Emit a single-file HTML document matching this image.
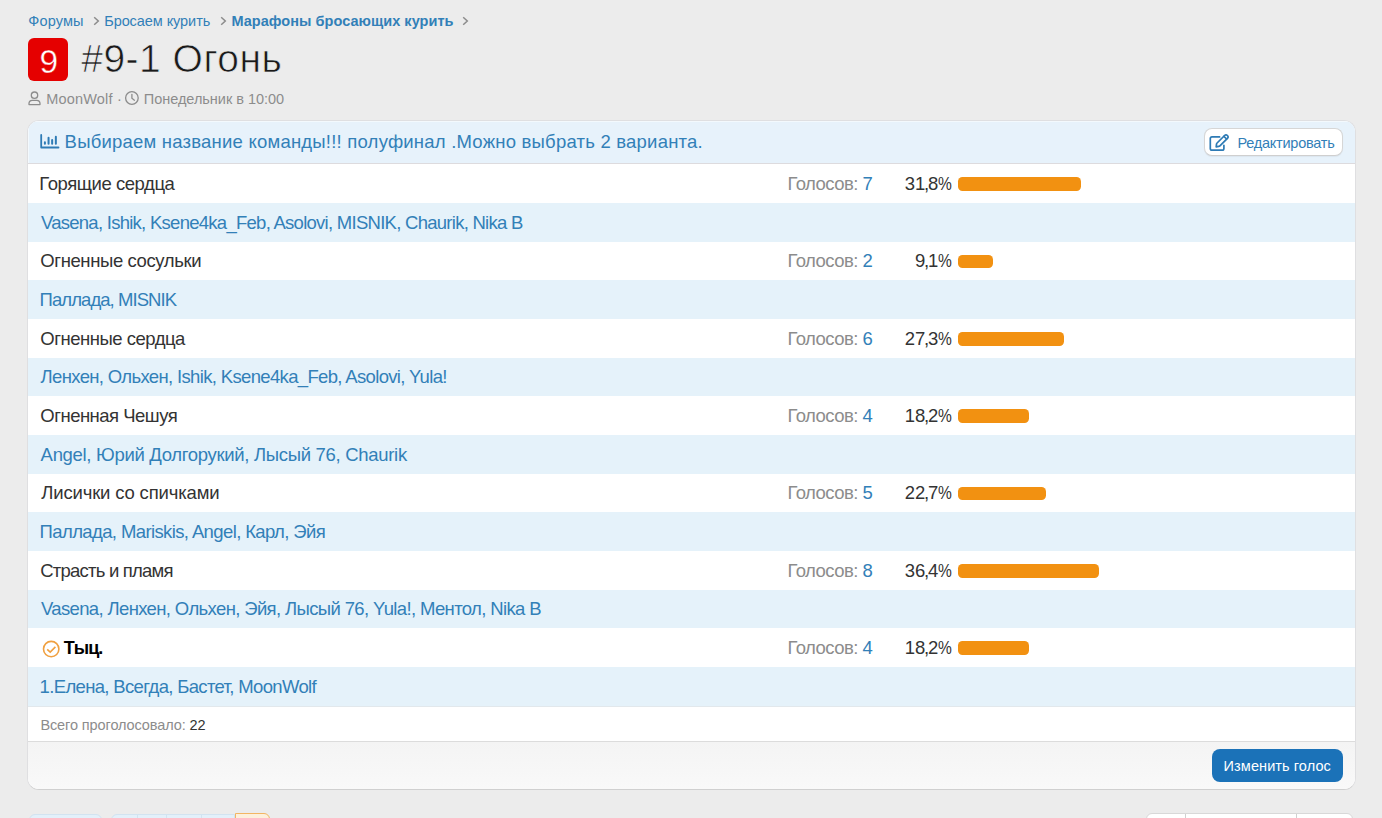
<!DOCTYPE html>
<html><head><meta charset="utf-8">
<style>
*{box-sizing:border-box;margin:0;padding:0}
html,body{width:1382px;height:818px;overflow:hidden;background:#ececec;font-family:"Liberation Sans",sans-serif;color:#141414}
.t{position:absolute;white-space:nowrap}
.a{position:absolute}
</style></head><body>
<div id="c1" class="t" style="left:28.30px;top:13.93px;font-size:14.5px;line-height:14.5px;color:#3280b8;font-weight:normal;letter-spacing:0.140px;">Форумы</div>
<div id="c2" class="t" style="left:104.20px;top:13.93px;font-size:14.5px;line-height:14.5px;color:#3280b8;font-weight:normal;letter-spacing:-0.069px;">Бросаем курить</div>
<div id="c3" class="t" style="left:231.40px;top:13.93px;font-size:14.5px;line-height:14.5px;color:#3280b8;font-weight:bold;letter-spacing:0.042px;">Марафоны бросающих курить</div>
<svg class="a" style="left:92.9px;top:16px" width="7" height="10" viewBox="0 0 7 10"><path d="M1.2 1.2 L5.3 5 L1.2 8.8" fill="none" stroke="#8c8c8c" stroke-width="1.5"/></svg>
<svg class="a" style="left:219.8px;top:16px" width="7" height="10" viewBox="0 0 7 10"><path d="M1.2 1.2 L5.3 5 L1.2 8.8" fill="none" stroke="#8c8c8c" stroke-width="1.5"/></svg>
<svg class="a" style="left:462.4px;top:16px" width="7" height="10" viewBox="0 0 7 10"><path d="M1.2 1.2 L5.3 5 L1.2 8.8" fill="none" stroke="#8c8c8c" stroke-width="1.5"/></svg>
<div class="a" style="left:28px;top:38px;width:40px;height:43px;background:#e50000;border-radius:6px"></div>
<div id="b9" class="t" style="left:39.50px;top:44.94px;font-size:33.5px;line-height:33.5px;color:#fff;font-weight:normal;letter-spacing:0.000px;-webkit-text-stroke:0.4px #e50000">9</div>
<div id="ti" class="t" style="left:81.20px;top:39.49px;font-size:39px;line-height:39px;color:#1a1a1a;font-weight:normal;letter-spacing:0.500px;-webkit-text-stroke:0.7px #ececec;paint-order:normal">#9-1 Огонь</div>
<svg class="a" style="left:28px;top:91px" width="13" height="15" viewBox="0 0 13 15"><circle cx="6.5" cy="4.2" r="3.2" fill="none" stroke="#8c8c8c" stroke-width="1.3"/><path d="M1 13.6 L1 12.6 Q1 9.3 4.3 9.3 L8.7 9.3 Q12 9.3 12 12.6 L12 13.6 Z" fill="none" stroke="#8c8c8c" stroke-width="1.3" stroke-linejoin="round"/></svg>
<div id="m1" class="t" style="left:46.20px;top:92.23px;font-size:14.5px;line-height:14.5px;color:#8c8c8c;font-weight:normal;letter-spacing:0.186px;">MoonWolf</div>
<div id="m2" class="t" style="left:117.00px;top:92.23px;font-size:14.5px;line-height:14.5px;color:#8c8c8c;font-weight:normal;letter-spacing:0.000px;">·</div>
<svg class="a" style="left:124px;top:91px" width="16" height="15" viewBox="0 0 16 15"><circle cx="7.9" cy="7" r="6.3" fill="none" stroke="#8c8c8c" stroke-width="1.3"/><path d="M7.9 3.3 L7.9 7.3 L10.4 9.2" fill="none" stroke="#8c8c8c" stroke-width="1.3" stroke-linecap="round"/></svg>
<div id="m3" class="t" style="left:143.80px;top:92.23px;font-size:14.5px;line-height:14.5px;color:#8c8c8c;font-weight:normal;letter-spacing:-0.028px;">Понедельник в 10:00</div>
<div class="a" style="left:27px;top:120px;width:1329px;height:670px;background:#fff;border:1px solid #dfdfe1;border-bottom-color:#d0d0d0;border-radius:12px;overflow:hidden">
<div class="a" style="left:0;top:0;width:1327px;height:43px;background:#e7f2fb;border-bottom:1px solid #dddbde;box-shadow:inset 1px 1px 0 rgba(255,255,255,.5)"></div>
<div class="a" style="left:0;top:81.97px;width:1327px;height:38.67px;background:#e5f2fa"></div>
<div class="a" style="left:0;top:159.31px;width:1327px;height:38.67px;background:#e5f2fa"></div>
<div class="a" style="left:0;top:236.65px;width:1327px;height:38.67px;background:#e5f2fa"></div>
<div class="a" style="left:0;top:313.99px;width:1327px;height:38.67px;background:#e5f2fa"></div>
<div class="a" style="left:0;top:391.33px;width:1327px;height:38.67px;background:#e5f2fa"></div>
<div class="a" style="left:0;top:468.67px;width:1327px;height:38.67px;background:#e5f2fa"></div>
<div class="a" style="left:0;top:546.01px;width:1327px;height:38.67px;background:#e5f2fa"></div>
<div class="a" style="left:0;top:584.70px;width:1327px;height:1px;background:#e2e8ec"></div>
<div class="a" style="left:0;top:620px;width:1327px;height:48px;background:linear-gradient(#f4f4f4,#f9f9f9);border-top:1px solid #dcdcdc"></div>
</div>
<svg class="a" style="left:38px;top:132px" width="24" height="18" viewBox="0 0 24 18"><g fill="none" stroke="#2e7bb5" stroke-linecap="round" stroke-linejoin="round"><path d="M3.2 2.9 V15.5 H20.5" stroke-width="1.8"/><path d="M6.9 10.2 V11.8 M10.55 5.7 V11.8 M14.15 8 V11.8 M17.85 4.7 V11.8" stroke-width="2"/></g></svg>
<div id="h1" class="t" style="left:64.60px;top:132.84px;font-size:18.5px;line-height:18.5px;color:#3280b8;font-weight:normal;letter-spacing:0.216px;">Выбираем название команды!!! полуфинал .Можно выбрать 2 варианта.</div>
<div class="a" style="left:1203.5px;top:128px;width:139.5px;height:28.2px;background:#fff;border:1px solid #d6d6d6;border-bottom-color:#cfcfcf;border-radius:8px;box-shadow:0 1px 1px rgba(0,0,0,.05)"></div>
<svg class="a" style="left:1209px;top:133px" width="21" height="19" viewBox="0 0 21 19"><g fill="none" stroke="#2e7bb5" stroke-width="1.7" stroke-linejoin="round" stroke-linecap="round"><path d="M10.6 3.9 H3 Q1.3 3.9 1.3 5.6 V15.5 Q1.3 17.2 3 17.2 H13.2 Q14.9 17.2 14.9 15.5 V12.3"/><path d="M7.2 13.9 L7.5 11.2 Q7.6 10.5 8.1 10 L15.6 2.5 Q17 1.1 18.4 2.5 Q19.8 3.9 18.4 5.3 L10.9 12.8 Q10.4 13.3 9.7 13.4 Z"/><path d="M14.9 3.3 L17.6 6"/></g></svg>
<div id="e1" class="t" style="left:1237.40px;top:135.73px;font-size:14.5px;line-height:14.5px;color:#3280b8;font-weight:normal;letter-spacing:-0.233px;">Редактировать</div>
<div id="o0" class="t" style="left:39.30px;top:174.94px;font-size:18.5px;line-height:18.5px;color:#333333;font-weight:normal;letter-spacing:-0.438px;">Горящие сердца</div>
<div id="g0" class="t" style="left:787.40px;top:174.94px;font-size:18.5px;line-height:18.5px;color:#8c8c8c;font-weight:normal;letter-spacing:-0.533px;">Голосов: <span style="color:#3280b8">7</span></div>
<div id="p0" class="t" style="right:430.00px;top:174.94px;font-size:18.5px;line-height:18.5px;color:#333333;letter-spacing:-0.1px">31<span style="margin:0 -1.1px">,</span>8<span style="display:inline-block;transform:scaleX(.84);transform-origin:0 0;margin-right:-2.6px">%</span></div>
<div class="a" style="left:958px;top:177.20px;width:123.38px;height:13.8px;background:#f29111;border-radius:4.5px"></div>
<div id="v0" class="t" style="left:40.90px;top:213.61px;font-size:18.5px;line-height:18.5px;color:#3280b8;font-weight:normal;letter-spacing:-0.728px;">Vasena, Ishik, Ksene4ka_Feb, Asolovi, MISNIK, Chaurik, Nika B</div>
<div id="o1" class="t" style="left:40.30px;top:252.28px;font-size:18.5px;line-height:18.5px;color:#333333;font-weight:normal;letter-spacing:-0.394px;">Огненные сосульки</div>
<div id="g1" class="t" style="left:787.40px;top:252.28px;font-size:18.5px;line-height:18.5px;color:#8c8c8c;font-weight:normal;letter-spacing:-0.533px;">Голосов: <span style="color:#3280b8">2</span></div>
<div id="p1" class="t" style="right:430.00px;top:252.28px;font-size:18.5px;line-height:18.5px;color:#333333;letter-spacing:-0.1px">9<span style="margin:0 -1.1px">,</span>1<span style="display:inline-block;transform:scaleX(.84);transform-origin:0 0;margin-right:-2.6px">%</span></div>
<div class="a" style="left:958px;top:254.54px;width:35.31px;height:13.8px;background:#f29111;border-radius:4.5px"></div>
<div id="v1" class="t" style="left:39.60px;top:290.95px;font-size:18.5px;line-height:18.5px;color:#3280b8;font-weight:normal;letter-spacing:-0.936px;">Паллада, MISNIK</div>
<div id="o2" class="t" style="left:40.30px;top:329.62px;font-size:18.5px;line-height:18.5px;color:#333333;font-weight:normal;letter-spacing:-0.486px;">Огненные сердца</div>
<div id="g2" class="t" style="left:787.40px;top:329.62px;font-size:18.5px;line-height:18.5px;color:#8c8c8c;font-weight:normal;letter-spacing:-0.533px;">Голосов: <span style="color:#3280b8">6</span></div>
<div id="p2" class="t" style="right:430.00px;top:329.62px;font-size:18.5px;line-height:18.5px;color:#333333;letter-spacing:-0.1px">27<span style="margin:0 -1.1px">,</span>3<span style="display:inline-block;transform:scaleX(.84);transform-origin:0 0;margin-right:-2.6px">%</span></div>
<div class="a" style="left:958px;top:331.88px;width:105.92px;height:13.8px;background:#f29111;border-radius:4.5px"></div>
<div id="v2" class="t" style="left:40.60px;top:368.29px;font-size:18.5px;line-height:18.5px;color:#3280b8;font-weight:normal;letter-spacing:-0.656px;">Ленхен, Ольхен, Ishik, Ksene4ka_Feb, Asolovi, Yula!</div>
<div id="o3" class="t" style="left:40.30px;top:406.96px;font-size:18.5px;line-height:18.5px;color:#333333;font-weight:normal;letter-spacing:-0.508px;">Огненная Чешуя</div>
<div id="g3" class="t" style="left:787.40px;top:406.96px;font-size:18.5px;line-height:18.5px;color:#8c8c8c;font-weight:normal;letter-spacing:-0.533px;">Голосов: <span style="color:#3280b8">4</span></div>
<div id="p3" class="t" style="right:430.00px;top:406.96px;font-size:18.5px;line-height:18.5px;color:#333333;letter-spacing:-0.1px">18<span style="margin:0 -1.1px">,</span>2<span style="display:inline-block;transform:scaleX(.84);transform-origin:0 0;margin-right:-2.6px">%</span></div>
<div class="a" style="left:958px;top:409.22px;width:70.62px;height:13.8px;background:#f29111;border-radius:4.5px"></div>
<div id="v3" class="t" style="left:40.60px;top:445.63px;font-size:18.5px;line-height:18.5px;color:#3280b8;font-weight:normal;letter-spacing:-0.308px;">Angel, Юрий Долгорукий, Лысый 76, Chaurik</div>
<div id="o4" class="t" style="left:41.30px;top:484.30px;font-size:18.5px;line-height:18.5px;color:#333333;font-weight:normal;letter-spacing:-0.167px;">Лисички со спичками</div>
<div id="g4" class="t" style="left:787.40px;top:484.30px;font-size:18.5px;line-height:18.5px;color:#8c8c8c;font-weight:normal;letter-spacing:-0.533px;">Голосов: <span style="color:#3280b8">5</span></div>
<div id="p4" class="t" style="right:430.00px;top:484.30px;font-size:18.5px;line-height:18.5px;color:#333333;letter-spacing:-0.1px">22<span style="margin:0 -1.1px">,</span>7<span style="display:inline-block;transform:scaleX(.84);transform-origin:0 0;margin-right:-2.6px">%</span></div>
<div class="a" style="left:958px;top:486.56px;width:88.08px;height:13.8px;background:#f29111;border-radius:4.5px"></div>
<div id="v4" class="t" style="left:39.60px;top:522.97px;font-size:18.5px;line-height:18.5px;color:#3280b8;font-weight:normal;letter-spacing:-0.612px;">Паллада, Mariskis, Angel, Карл, Эйя</div>
<div id="o5" class="t" style="left:40.30px;top:561.64px;font-size:18.5px;line-height:18.5px;color:#333333;font-weight:normal;letter-spacing:-0.786px;">Страсть и пламя</div>
<div id="g5" class="t" style="left:787.40px;top:561.64px;font-size:18.5px;line-height:18.5px;color:#8c8c8c;font-weight:normal;letter-spacing:-0.533px;">Голосов: <span style="color:#3280b8">8</span></div>
<div id="p5" class="t" style="right:430.00px;top:561.64px;font-size:18.5px;line-height:18.5px;color:#333333;letter-spacing:-0.1px">36<span style="margin:0 -1.1px">,</span>4<span style="display:inline-block;transform:scaleX(.84);transform-origin:0 0;margin-right:-2.6px">%</span></div>
<div class="a" style="left:958px;top:563.90px;width:141.23px;height:13.8px;background:#f29111;border-radius:4.5px"></div>
<div id="v5" class="t" style="left:40.90px;top:600.31px;font-size:18.5px;line-height:18.5px;color:#3280b8;font-weight:normal;letter-spacing:-0.634px;">Vasena, Ленхен, Ольхен, Эйя, Лысый 76, Yula!, Ментол, Nika B</div>
<svg class="a" style="left:42px;top:639.64px" width="19" height="19" viewBox="0 0 19 19"><circle cx="9.2" cy="9.1" r="7.7" fill="none" stroke="#f0a040" stroke-width="1.6"/><path d="M5.2 9.3 L8.2 12.1 L13.4 6.9" fill="none" stroke="#f0a040" stroke-width="1.6"/></svg>
<div id="o6" class="t" style="left:63.80px;top:639.40px;font-size:18px;line-height:18px;color:#000;font-weight:bold;letter-spacing:-0.900px;">Тыц.</div>
<div id="g6" class="t" style="left:787.40px;top:638.98px;font-size:18.5px;line-height:18.5px;color:#8c8c8c;font-weight:normal;letter-spacing:-0.533px;">Голосов: <span style="color:#3280b8">4</span></div>
<div id="p6" class="t" style="right:430.00px;top:638.98px;font-size:18.5px;line-height:18.5px;color:#333333;letter-spacing:-0.1px">18<span style="margin:0 -1.1px">,</span>2<span style="display:inline-block;transform:scaleX(.84);transform-origin:0 0;margin-right:-2.6px">%</span></div>
<div class="a" style="left:958px;top:641.24px;width:70.62px;height:13.8px;background:#f29111;border-radius:4.5px"></div>
<div id="v6" class="t" style="left:39.60px;top:677.65px;font-size:18.5px;line-height:18.5px;color:#3280b8;font-weight:normal;letter-spacing:-0.656px;">1.Елена, Всегда, Бастет, MoonWolf</div>
<div id="tot" class="t" style="left:40.40px;top:718.03px;font-size:14.5px;line-height:14.5px;color:#8c8c8c;font-weight:normal;letter-spacing:-0.100px;">Всего проголосовало: <span style="color:#333">22</span></div>
<div class="a" style="left:1211.6px;top:748.7px;width:131.7px;height:33px;background:#1b72b8;border-radius:8px"></div>
<div id="fb" class="t" style="left:1223.60px;top:758.73px;font-size:14.5px;line-height:14.5px;color:#fff;font-weight:normal;letter-spacing:0.085px;">Изменить голос</div>
<div class="a" style="left:28.5px;top:813.5px;width:73.5px;height:12px;background:#e3f0fa;border:1px solid #d2e3f0;border-radius:6px"></div>
<div class="a" style="left:110.5px;top:813.5px;width:124.5px;height:12px;background:#e3f0fa;border:1px solid #d2e3f0;border-radius:6px 0 0 0"></div>
<div class="a" style="left:137.0px;top:814px;width:1px;height:6px;background:#d2e3f0"></div>
<div class="a" style="left:165.5px;top:814px;width:1px;height:6px;background:#d2e3f0"></div>
<div class="a" style="left:200.7px;top:814px;width:1px;height:6px;background:#d2e3f0"></div>
<div class="a" style="left:234.8px;top:813px;width:35.5px;height:12px;background:#fdf0dc;border:1px solid #f3b663;border-radius:0 6px 0 0"></div>
<div class="a" style="left:1146.4px;top:813.2px;width:207px;height:12px;background:#fff;border:1px solid #d8d8d8;border-radius:6px 6px 0 0"></div>
<div class="a" style="left:1184.7px;top:813.5px;width:1px;height:6px;background:#d0d0d0"></div>
<div class="a" style="left:1296.0px;top:813.5px;width:1px;height:6px;background:#d0d0d0"></div>
</body></html>
